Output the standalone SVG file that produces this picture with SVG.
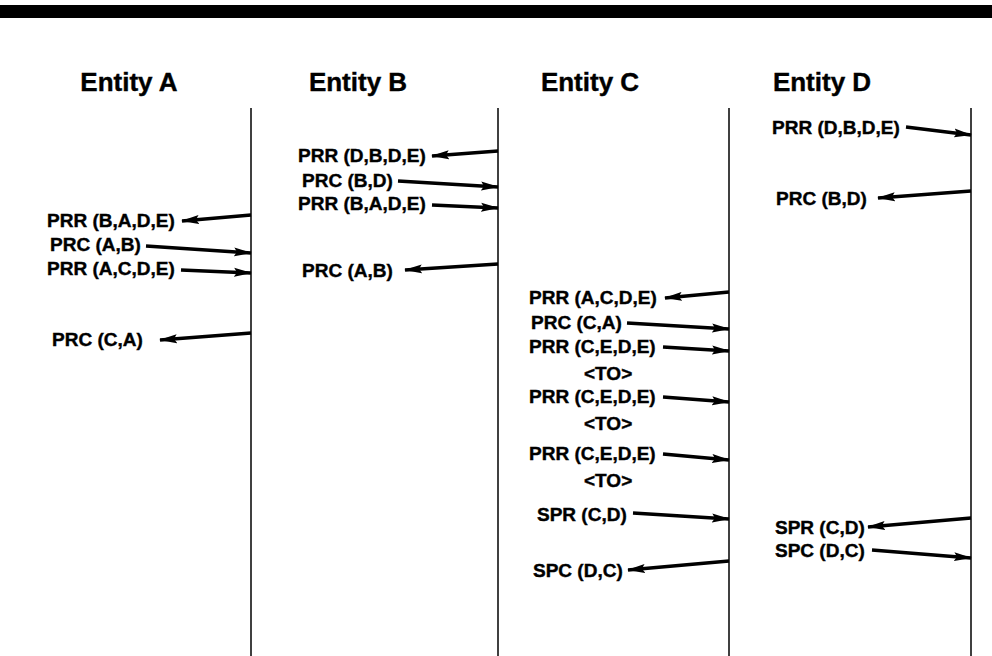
<svg xmlns="http://www.w3.org/2000/svg" width="992" height="656" viewBox="0 0 992 656">
<defs>
<style>
.h{font-family:"Liberation Sans",Arial,sans-serif;font-weight:bold;font-size:26px;fill:#000;stroke:#000;stroke-width:0.4;text-anchor:middle}
.t{font-family:"Liberation Sans",Arial,sans-serif;font-weight:bold;font-size:19px;fill:#000;stroke:#000;stroke-width:0.4}
.life{stroke:#000;stroke-width:1.5;fill:none}
.msg{stroke:#000;stroke-width:3.5;fill:none;marker-end:url(#ah)}
</style>
<marker id="ah" markerUnits="userSpaceOnUse" markerWidth="18" markerHeight="10" refX="17" refY="5" orient="auto">
<path d="M0,0.5 L18,5 L0,9.5 L3,5 z" fill="#000"/>
</marker>
</defs>
<rect x="0" y="0" width="992" height="656" fill="#fff"/>
<rect x="0" y="5" width="992" height="13" fill="#000"/>
<g id="entityA">
<text class="h" x="129" y="91">Entity A</text>
<line class="life" x1="251" y1="108" x2="251" y2="656"/>
</g>
<g id="entityB">
<text class="h" x="358" y="91">Entity B</text>
<line class="life" x1="498" y1="108" x2="498" y2="656"/>
</g>
<g id="entityC">
<text class="h" x="590" y="91">Entity C</text>
<line class="life" x1="729" y1="108" x2="729" y2="656"/>
</g>
<g id="entityD">
<text class="h" x="822" y="91">Entity D</text>
<line class="life" x1="971" y1="108" x2="971" y2="656"/>
</g>
<g id="labels">
<text class="t" x="47" y="227">PRR (B,A,D,E)</text>
<text class="t" x="50" y="251">PRC (A,B)</text>
<text class="t" x="47" y="275">PRR (A,C,D,E)</text>
<text class="t" x="52" y="346">PRC (C,A)</text>
<text class="t" x="298" y="162">PRR (D,B,D,E)</text>
<text class="t" x="302" y="187">PRC (B,D)</text>
<text class="t" x="298" y="210">PRR (B,A,D,E)</text>
<text class="t" x="302" y="277">PRC (A,B)</text>
<text class="t" x="529" y="304">PRR (A,C,D,E)</text>
<text class="t" x="531" y="329">PRC (C,A)</text>
<text class="t" x="529" y="353">PRR (C,E,D,E)</text>
<text class="t" x="584" y="380">&lt;TO&gt;</text>
<text class="t" x="529" y="403">PRR (C,E,D,E)</text>
<text class="t" x="584" y="430">&lt;TO&gt;</text>
<text class="t" x="529" y="460">PRR (C,E,D,E)</text>
<text class="t" x="584" y="487">&lt;TO&gt;</text>
<text class="t" x="537" y="521">SPR (C,D)</text>
<text class="t" x="533" y="577">SPC (D,C)</text>
<text class="t" x="772" y="134">PRR (D,B,D,E)</text>
<text class="t" x="776" y="205">PRC (B,D)</text>
<text class="t" x="775" y="534">SPR (C,D)</text>
<text class="t" x="775" y="557">SPC (D,C)</text>
</g>
<g id="connectors">
<line class="msg" x1="251" y1="215" x2="182" y2="221"/>
<line class="msg" x1="146" y1="246" x2="251" y2="253"/>
<line class="msg" x1="181" y1="270" x2="251" y2="273"/>
<line class="msg" x1="251" y1="333" x2="160" y2="340"/>
<line class="msg" x1="498" y1="151" x2="432" y2="156"/>
<line class="msg" x1="398" y1="181" x2="498" y2="187"/>
<line class="msg" x1="432" y1="205" x2="498" y2="208"/>
<line class="msg" x1="498" y1="264" x2="405" y2="270"/>
<line class="msg" x1="729" y1="292" x2="665" y2="298"/>
<line class="msg" x1="627" y1="323" x2="729" y2="329"/>
<line class="msg" x1="663" y1="347" x2="729" y2="351"/>
<line class="msg" x1="663" y1="397" x2="729" y2="402"/>
<line class="msg" x1="663" y1="454" x2="729" y2="460"/>
<line class="msg" x1="633" y1="513" x2="729" y2="519"/>
<line class="msg" x1="729" y1="561" x2="628" y2="570"/>
<line class="msg" x1="906" y1="127" x2="971" y2="135"/>
<line class="msg" x1="971" y1="191" x2="878" y2="198"/>
<line class="msg" x1="971" y1="518" x2="868" y2="527"/>
<line class="msg" x1="872" y1="550" x2="971" y2="558"/>
</g>
</svg>
